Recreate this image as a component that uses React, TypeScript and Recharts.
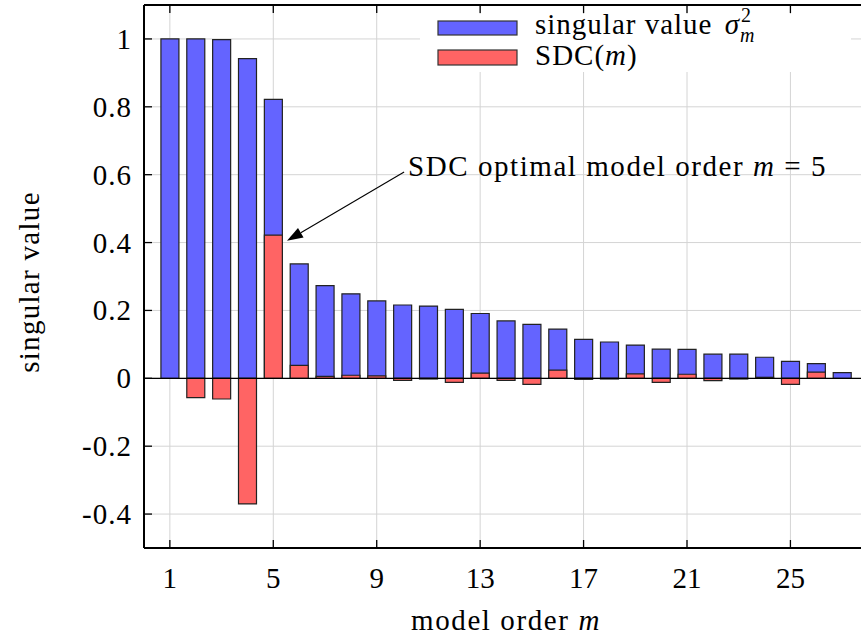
import React from "react";
import {
  BarChart,
  Bar,
  XAxis,
  YAxis,
  CartesianGrid,
  ReferenceLine,
} from "recharts";

// model order m = 1..27
const orders = [
  1, 2, 3, 4, 5, 6, 7, 8, 9, 10, 11, 12, 13, 14, 15, 16, 17, 18, 19, 20, 21,
  22, 23, 24, 25, 26, 27,
];
const singularValues = [
  1.0, 1.0, 0.998, 0.942, 0.822, 0.337, 0.273, 0.249, 0.228, 0.216, 0.213,
  0.203, 0.191, 0.169, 0.159, 0.145, 0.115, 0.107, 0.098, 0.086, 0.085, 0.071,
  0.071, 0.062, 0.05, 0.043, 0.017,
];
const sdcValues = [
  0, -0.057, -0.061, -0.37, 0.422, 0.038, 0.006, 0.009, 0.007, -0.006,
  -0.002, -0.012, 0.015, -0.006, -0.018, 0.024, -0.003, -0.002, 0.013,
  -0.012, 0.012, -0.007, -0.002, 0.003, -0.018, 0.018, 0,
];
const xTicks = [1, 5, 9, 13, 17, 21, 25];
const yTicks = [-0.4, -0.2, 0, 0.2, 0.4, 0.6, 0.8, 1];
const yTickLabels = ["-0.4", "-0.2", "0", "0.2", "0.4", "0.6", "0.8", "1"];

// arrow from the note text to the optimal SDC bar (data units)
const noteStart = { x: 10.06, y: 0.608 };
const noteTip = { x: 5.53, y: 0.405 };

const data = orders.map((m, i) => ({
  m,
  sigma: singularValues[i],
  sdc: sdcValues[i],
}));

const FONT = "'Liberation Serif', 'Times New Roman', serif";
const FS = 29;
const LS = 1;
const PLOT_TOP = 5;
const Y_TICK_MARGIN = 12;
const BLUE = "#6464ff";
const RED = "#ff6464";

const YTick = (props: any) => {
  const { x, y, payload } = props;
  const idx = yTicks.indexOf(payload.value);
  const ax = x + Y_TICK_MARGIN;
  return (
    <g>
      <line x1={ax} x2={ax + 8} y1={y} y2={y} stroke="#000" strokeWidth={1.3} />
      <text
        x={x}
        y={y + 10}
        textAnchor="end"
        fontFamily={FONT}
        fontSize={FS}
        letterSpacing={LS}
        fill="#000"
      >
        {idx >= 0 ? yTickLabels[idx] : payload.value}
      </text>
    </g>
  );
};

const XTick = (props: any) => {
  const { x, y, payload } = props;
  return (
    <g>
      <line x1={x} x2={x} y1={y} y2={y - 8} stroke="#000" strokeWidth={1.3} />
      <line
        x1={x}
        x2={x}
        y1={PLOT_TOP}
        y2={PLOT_TOP + 8}
        stroke="#000"
        strokeWidth={1.3}
      />
      <text
        x={x}
        y={y + 40}
        textAnchor="middle"
        fontFamily={FONT}
        fontSize={FS}
        fill="#000"
      >
        {payload.value}
      </text>
    </g>
  );
};

const NoteArrow = (props: any) => {
  const { x1, y1, x2, y2 } = props;
  const dx = x2 - x1;
  const dy = y2 - y1;
  const len = Math.sqrt(dx * dx + dy * dy);
  const ux = dx / len;
  const uy = dy / len;
  const hl = 16;
  const hw = 5.5;
  const bx = x2 - ux * hl;
  const by = y2 - uy * hl;
  return (
    <g>
      <line x1={x1} y1={y1} x2={bx} y2={by} stroke="#000" strokeWidth={1.1} />
      <polygon
        points={`${x2},${y2} ${bx - uy * hw},${by + ux * hw} ${bx + uy * hw},${by - ux * hw}`}
        fill="#000"
      />
      <text
        x={x1 + 4}
        y={y1 + 4}
        fontFamily={FONT}
        fontSize={FS}
        letterSpacing={1.55}
        fill="#000"
      >
        SDC optimal model order <tspan fontStyle="italic">m</tspan> = 5
      </text>
    </g>
  );
};

const LegendBox = () => (
  <svg
    width={861}
    height={80}
    style={{ position: "absolute", left: 0, top: 0, pointerEvents: "none" }}
  >
    <rect x={420} y={14} width={431} height={58} fill="#fff" />
    <rect x={438} y={21} width={79} height={14} fill={BLUE} stroke="#333" strokeWidth={1.2} />
    <rect x={438} y={50} width={79} height={15} fill={RED} stroke="#333" strokeWidth={1.2} />
    <text x={535} y={34} fontFamily={FONT} fontSize={FS} letterSpacing={LS} fill="#000">
      singular value{" "}
      <tspan fontStyle="italic" dx={4}>σ</tspan>
      <tspan fontSize={20} dx={1} dy={-12}>2</tspan>
      <tspan fontSize={20} fontStyle="italic" dx={-12} dy={20}>m</tspan>
    </text>
    <text x={535} y={65} fontFamily={FONT} fontSize={FS} letterSpacing={LS} fill="#000">
      SDC(<tspan fontStyle="italic">m</tspan>)
    </text>
  </svg>
);

export default function App() {
  return (
    <div
      style={{
        position: "fixed",
        left: 0,
        top: 0,
        width: 861,
        height: 639,
        overflow: "hidden",
        background: "#fff",
      }}
    >
      <BarChart
        width={880}
        height={639}
        data={data}
        margin={{ top: PLOT_TOP, right: 12, bottom: 51, left: 84 }}
      >
        <CartesianGrid
          xAxisId="bottom"
          stroke="#d4d4d4"
          strokeWidth={1}
        />
        <XAxis
          xAxisId="bottom"
          dataKey="m"
          type="number"
          domain={[0, 28]}
          ticks={xTicks}
          interval={0}
          height={40}
          tickSize={0}
          tickMargin={0}
          tick={<XTick />}
          axisLine={{ stroke: "#000", strokeWidth: 2 }}
          label={(p: any) => {
            const vb = p.viewBox;
            return (
              <text
                x={vb.x + vb.width / 2}
                y={vb.y + 82}
                textAnchor="middle"
                fontFamily={FONT}
                fontSize={FS}
                letterSpacing={1.6}
                fill="#000"
              >
                model order <tspan fontStyle="italic">m</tspan>
              </text>
            );
          }}
        />
        <XAxis
          xAxisId="overlay"
          dataKey="m"
          type="number"
          domain={[0, 28]}
          hide
        />
        <YAxis
          type="number"
          domain={[-0.5, 1.1]}
          ticks={yTicks}
          interval={0}
          width={60}
          tickSize={0}
          tickMargin={Y_TICK_MARGIN}
          tick={<YTick />}
          axisLine={{ stroke: "#000", strokeWidth: 2 }}
        />
        <ReferenceLine
          xAxisId="bottom"
          y={1.1}
          stroke="#000"
          strokeWidth={2}
        />
        <Bar
          xAxisId="bottom"
          dataKey="sigma"
          fill={BLUE}
          stroke="#222"
          strokeWidth={1.2}
          barSize={18}
          isAnimationActive={false}
        />
        <Bar
          xAxisId="overlay"
          dataKey="sdc"
          fill={RED}
          stroke="#222"
          strokeWidth={1.2}
          barSize={18}
          isAnimationActive={false}
        />
        <ReferenceLine xAxisId="bottom" y={0} stroke="#000" strokeWidth={1.3} />
        <ReferenceLine
          xAxisId="bottom"
          segment={[noteStart, noteTip]}
          shape={<NoteArrow />}
        />
      </BarChart>
      <LegendBox />
      <svg
        width={60}
        height={639}
        style={{ position: "absolute", left: 0, top: 0, pointerEvents: "none" }}
      >
        <text
          transform="translate(39, 282) rotate(-90)"
          textAnchor="middle"
          fontFamily={FONT}
          fontSize={FS}
          letterSpacing={1.3}
          fill="#000"
        >
          singular value
        </text>
      </svg>
    </div>
  );
}
